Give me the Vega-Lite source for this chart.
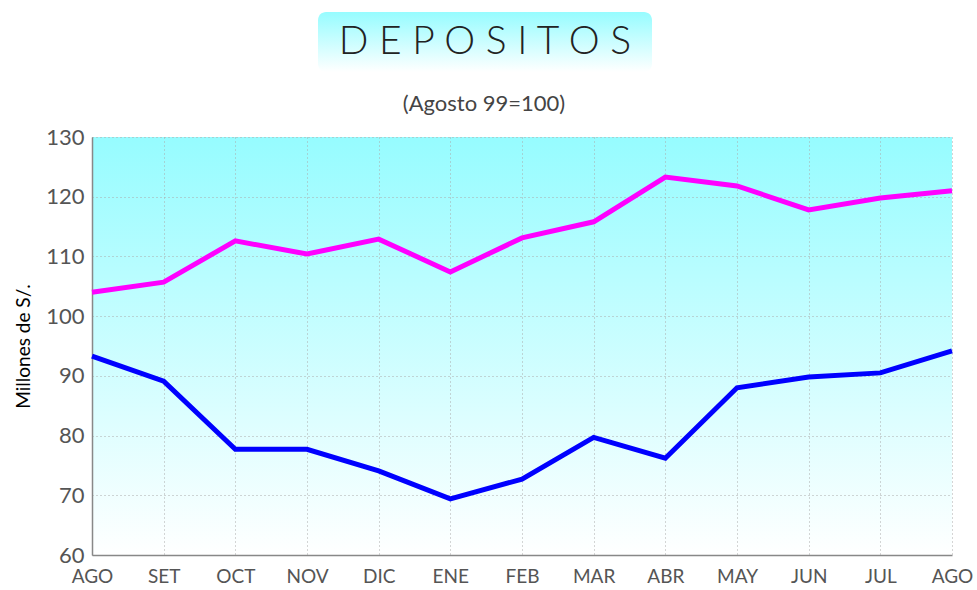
{
  "$schema": "https://vega.github.io/schema/vega-lite/v6.json",
  "padding": {"left": 14, "top": 12, "right": 5, "bottom": 5},
  "background": "white",
  "spacing": 21,
  "config": {"font": "Lato", "view": {"stroke": null}},
  "datasets": {
    "depositos": [
      {"periodo": "AGO 99", "serie": "A", "indice": 104.0},
      {"periodo": "SET 99", "serie": "A", "indice": 105.7},
      {"periodo": "OCT 99", "serie": "A", "indice": 112.6},
      {"periodo": "NOV 99", "serie": "A", "indice": 110.4},
      {"periodo": "DIC 99", "serie": "A", "indice": 112.9},
      {"periodo": "ENE 00", "serie": "A", "indice": 107.4},
      {"periodo": "FEB 00", "serie": "A", "indice": 113.1},
      {"periodo": "MAR 00", "serie": "A", "indice": 115.8},
      {"periodo": "ABR 00", "serie": "A", "indice": 123.3},
      {"periodo": "MAY 00", "serie": "A", "indice": 121.8},
      {"periodo": "JUN 00", "serie": "A", "indice": 117.8},
      {"periodo": "JUL 00", "serie": "A", "indice": 119.8},
      {"periodo": "AGO 00", "serie": "A", "indice": 121.0},
      {"periodo": "AGO 99", "serie": "B", "indice": 93.3},
      {"periodo": "SET 99", "serie": "B", "indice": 89.1},
      {"periodo": "OCT 99", "serie": "B", "indice": 77.7},
      {"periodo": "NOV 99", "serie": "B", "indice": 77.7},
      {"periodo": "DIC 99", "serie": "B", "indice": 74.1},
      {"periodo": "ENE 00", "serie": "B", "indice": 69.4},
      {"periodo": "FEB 00", "serie": "B", "indice": 72.7},
      {"periodo": "MAR 00", "serie": "B", "indice": 79.7},
      {"periodo": "ABR 00", "serie": "B", "indice": 76.2},
      {"periodo": "MAY 00", "serie": "B", "indice": 88.0},
      {"periodo": "JUN 00", "serie": "B", "indice": 89.8},
      {"periodo": "JUL 00", "serie": "B", "indice": 90.5},
      {"periodo": "AGO 00", "serie": "B", "indice": 94.2}
    ],
    "titulo": [{"t": "D E P O S I T O S"}],
    "vacio": [{"t": ""}]
  },
  "vconcat": [
    {
      "spacing": 0,
      "hconcat": [
        {
          "width": 226,
          "height": 60,
          "data": {"name": "vacio"},
          "mark": {"type": "text"},
          "encoding": {"text": {"field": "t"}}
        },
        {
          "width": 334,
          "height": 60,
          "view": {
            "cornerRadius": 8,
            "fill": {"gradient": "linear", "x1": 0, "y1": 0, "x2": 0, "y2": 1,
                     "stops": [{"offset": 0, "color": "#96FCFF"}, {"offset": 1, "color": "#FFFFFF"}]}
          },
          "data": {"name": "titulo"},
          "mark": {"type": "text", "fontSize": 39, "font": "Lato", "fontWeight": 300, "color": "#222222", "baseline": "middle", "align": "center"},
          "encoding": {"text": {"field": "t"}}
        }
      ]
    },
    {
      "width": 860,
      "height": 418,
      "title": {"text": "(Agosto 99=100)", "fontSize": 22, "fontWeight": "normal", "color": "#444444", "offset": 10, "anchor": "middle", "dx": -38},
      "view": {
        "fill": {"gradient": "linear", "x1": 0, "y1": 0, "x2": 0, "y2": 1,
                 "stops": [{"offset": 0, "color": "#96FCFF"}, {"offset": 1, "color": "#FFFFFF"}]}
      },
      "data": {"name": "depositos"},
      "mark": {"type": "line", "strokeWidth": 5, "strokeJoin": "miter"},
      "encoding": {
        "x": {
          "field": "periodo", "type": "ordinal", "sort": null,
          "scale": {"type": "point", "padding": 0},
          "axis": {
            "title": null, "labelAngle": 0, "labelExpr": "slice(datum.label, 0, 3)",
            "labelFontSize": 19, "labelColor": "#555555", "labelPadding": 12,
            "ticks": false, "domainColor": "#888888", "domainWidth": 1.5,
            "grid": true, "gridColor": "#aaaaaa", "gridDash": [1, 3], "gridWidth": 1
          }
        },
        "y": {
          "field": "indice", "type": "quantitative",
          "scale": {"domain": [60, 130], "nice": false, "zero": false},
          "axis": {
            "title": "Millones de S/.", "titleFontSize": 19, "titleFontWeight": "normal", "titleColor": "#000000", "titlePadding": 12,
            "values": [60, 70, 80, 90, 100, 110, 120, 130],
            "labelFontSize": 22, "labelColor": "#555555", "labelPadding": 8,
            "ticks": false, "domainColor": "#888888", "domainWidth": 1.5,
            "grid": true, "gridColor": "#aaaaaa", "gridDash": [1, 3], "gridWidth": 1
          }
        },
        "color": {
          "field": "serie", "type": "nominal",
          "scale": {"domain": ["A", "B"], "range": ["#FF00FF", "#0000FF"]},
          "legend": null
        }
      }
    }
  ]
}
